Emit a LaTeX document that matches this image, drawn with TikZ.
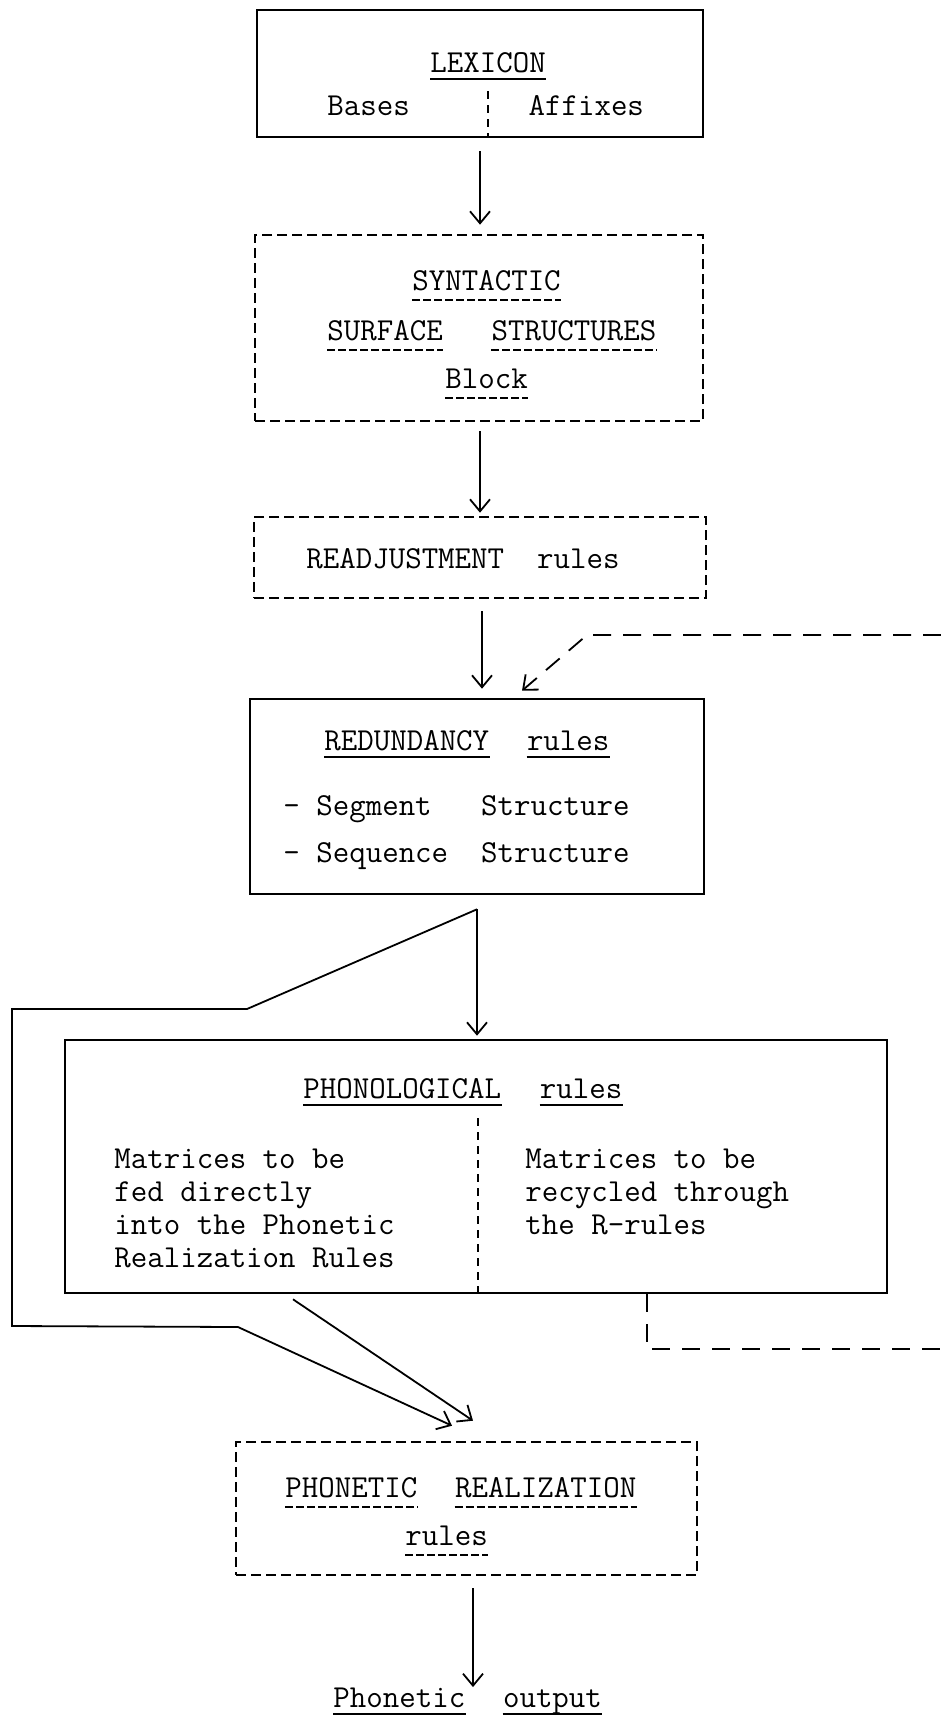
\documentclass[tikz,border=0pt]{standalone}
\usetikzlibrary{arrows.meta,positioning}
\begin{document}
\begin{tikzpicture}[x=0.5pt,y=-0.5pt,
		box/.style={draw,line width=1.3pt,inner sep=0pt},
		dbox/.style={box,dash pattern=on 5pt off 2.5pt},
		txt/.style={inner sep=0pt,anchor=base west,font=\fontsize{16}{16.5}\selectfont\ttfamily},
		arr/.style={line width=0.9pt,-{Straight Barb[length=6pt,width=10pt]}},
		fback/.style={line width=0.9pt,dash pattern=on 9pt off 6pt},
		divider/.style={line width=0.9pt,dash pattern=on 4pt off 3pt},
		ul/.style={line width=1pt},
		dul/.style={line width=1pt,dash pattern=on 4pt off 1.5pt}]
		\useasboundingbox (0,0) rectangle (941,1719);
		
		\node[box,minimum width=223pt,minimum height=63.5pt] (lex) at (480,73.5) {};
		\node[dbox,minimum width=224pt,minimum height=93pt] (syn) at (479,328) {};
		\node[dbox,minimum width=226pt,minimum height=40.5pt] (readj) at (480,557.5) {};
		\node[box,minimum width=227pt,minimum height=97.5pt] (red) at (477,796.5) {};
		\node[box,minimum width=411pt,minimum height=126.5pt] (phon) at (476,1166.5) {};
		\node[dbox,minimum width=230.5pt,minimum height=66.5pt] (preal) at (466.5,1508.5) {};
		
		\node[txt] (lexw) at (430,72) {LEXICON};
		\node[txt] (bases) at (327,115) {Bases};
		\node[txt,base right=59pt of bases] (affixes) {Affixes};
		\node[txt] (synw) at (412,290) {SYNTACTIC};
		\node[txt] (surf) at (327,340) {SURFACE};
		\node[txt,base right=24pt of surf] (struct) {STRUCTURES};
		\node[txt] (block) at (445,388) {Block};
		\node[txt] (readjw) at (306,568) {READJUSTMENT\ \ rules};
		\node[txt] (redw) at (324,750) {REDUNDANCY};
		\node[txt,base right=18.5pt of redw] (redr) {rules};
		\node[txt] (seg) at (283,815) {- Segment\ \ \ Structure};
		\node[txt] (seq) at (283,862) {- Sequence\ \ Structure};
		\node[txt] (phonw) at (303,1098) {PHONOLOGICAL};
		\node[txt,base right=19pt of phonw] (phonr) {rules};
		\foreach \t [count=\i] in {Matrices to be,fed directly,into the Phonetic,Realization Rules}
			\node[txt] (pl\i) at (114,1135+33*\i) {\t};
		\foreach \t [count=\i] in {Matrices to be,recycled through,the R-rules}
			\node[txt] (pr\i) at (525,1135+33*\i) {\t};
		\node[txt] (prealw) at (285,1497) {PHONETIC};
		\node[txt,base right=18.5pt of prealw] (prealr) {REALIZATION};
		\node[txt] (prealx) at (405,1545) {rules};
		\node[txt] (outa) at (333,1707) {Phonetic};
		\node[txt,base right=18.5pt of outa] (outb) {output};
		
		% underlines
		\foreach \n in {lexw,redw,redr,phonw,phonr,outa,outb}
			\draw[ul] ([yshift=-3.5pt]\n.base west) -- ([yshift=-3.5pt]\n.base east);
		\foreach \n in {synw,surf,struct,block,prealw,prealr,prealx}
			\draw[dul] ([yshift=-5pt]\n.base west) -- ([yshift=-5pt]\n.base east);
		
		\coordinate (lexdiv) at (488,91);
		\draw[divider] (lexdiv) -- (lexdiv |- lex.south);
		\coordinate (phondiv) at (478,1118);
		\draw[divider] (phondiv) -- (phondiv |- phon.south);
		
		\draw[arr,shorten <=6.5pt,shorten >=4.5pt] (lex.south) -- (lex.south |- syn.north);
		\draw[arr,shorten <=4.5pt,shorten >=1.5pt] (readj.north |- syn.south) -- (readj.north);
		\draw[arr,shorten <=6pt,shorten >=4.5pt] ([xshift=1pt]readj.south) -- ([xshift=1pt]readj.south |- red.north);
		\coordinate (split) at ([yshift=-7pt]red.south);
		\draw[arr,shorten >=1.5pt] (split) -- (split |- phon.north);
		\draw[arr] (split) -- (247,1009) -- (12,1009) -- (12,1326) -- (238,1327)
			-- ([xshift=-7.25pt,yshift=7.5pt]preal.north);
		\draw[arr] ([xshift=-91.5pt,yshift=-2.5pt]phon.south) -- ([xshift=3.25pt,yshift=10pt]preal.north);
		\draw[arr] ([xshift=3.25pt,yshift=-6pt]preal.south) -- ([xshift=3.25pt]preal.south |- outa.north);
		
		\coordinate (fbin) at (941,635);
		\coordinate (fbout) at (941,1349);
		\draw[fback,-{Straight Barb[length=6pt,width=10pt]}] (fbin) -- (587,635) -- ([xshift=22.5pt,yshift=3.5pt]red.north);
		\draw[fback] ([xshift=85.5pt]phon.south) |- (fbout);
\end{tikzpicture}
\end{document}
